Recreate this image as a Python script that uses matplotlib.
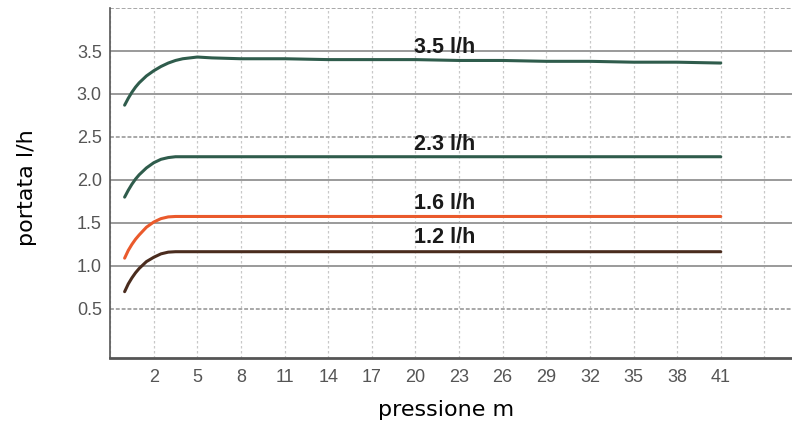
import matplotlib
matplotlib.use("Agg")
import matplotlib.pyplot as plt

# ---------------------------------------------------------------------------- #
#                                     DATA                                     #
# ---------------------------------------------------------------------------- #

x_ticks = [2, 5, 8, 11, 14, 17, 20, 23, 26, 29, 32, 35, 38, 41]
y_ticks = [0.5, 1.0, 1.5, 2.0, 2.5, 3.0, 3.5]

x_35 = [0, 0.25, 0.5, 0.75, 1, 1.5, 2, 2.5, 3, 3.5, 4, 4.5, 5, 6, 8, 11, 14,
        17, 20, 23, 26, 29, 32, 35, 38, 41]
y_35 = [2.87, 2.95, 3.02, 3.08, 3.13, 3.21, 3.27, 3.32, 3.36, 3.39, 3.41, 3.42,
        3.43, 3.42, 3.41, 3.41, 3.40, 3.40, 3.40, 3.39, 3.39, 3.38, 3.38, 3.37,
        3.37, 3.36]

x_low = [0, 0.25, 0.5, 0.75, 1, 1.5, 2, 2.5, 3, 3.5, 41]
y_23 = [1.80, 1.88, 1.95, 2.01, 2.06, 2.14, 2.20, 2.24, 2.26, 2.27, 2.27]
y_16 = [1.09, 1.18, 1.25, 1.31, 1.36, 1.45, 1.51, 1.55, 1.57, 1.575, 1.575]
y_12 = [0.70, 0.79, 0.86, 0.92, 0.97, 1.05, 1.10, 1.14, 1.16, 1.165, 1.165]

labels = ["3.5 l/h", "2.3 l/h", "1.6 l/h", "1.2 l/h"]
label_y = [3.54, 2.41, 1.73, 1.33]

# ---------------------------------------------------------------------------- #
#                                    FIGURE                                    #
# ---------------------------------------------------------------------------- #

fig = plt.figure(figsize=(7.92, 4.23), dpi=100)
ax = fig.add_axes([0.139, 0.154, 0.861, 0.827])

# grid
for xv in [-1] + x_ticks + [44]:
    ax.axvline(xv, color="#c8c8c8", lw=0.9, ls=(0, (2, 2)), zorder=0)
for yv in y_ticks + [4.0]:
    solid = yv not in (0.5, 2.5, 4.0)
    ax.axhline(yv, color="#9a9a9a" if solid else "#a8a8a8", lw=1.4,
               ls="-" if solid else (0, (2, 1)), zorder=0)

green = "#2f5c4c"
ax.plot(x_35, y_35, color=green, lw=2.2, solid_capstyle="round")
ax.plot(x_low, y_23, color=green, lw=2.2, solid_capstyle="round")
ax.plot(x_low, y_16, color="#ea5a2c", lw=2.2, solid_capstyle="round")
ax.plot(x_low, y_12, color="#4a2c1e", lw=2.2, solid_capstyle="round")

for txt, yy in zip(labels, label_y):
    ax.text(19.9, yy, txt, fontsize=15.5, fontweight="bold", color="#1a1a1a",
            family="Liberation Sans", va="center", ha="left")

ax.set_xlim(-1, 45.9)
ax.set_ylim(-0.07, 4.0)
ax.set_xticks(x_ticks)
ax.set_yticks(y_ticks)
ax.set_yticklabels([f"{v:.1f}" for v in y_ticks])
ax.tick_params(axis="y", length=0, labelsize=13, labelcolor="#555555", pad=6)
ax.tick_params(axis="x", length=0, labelsize=13, labelcolor="#555555", pad=8)
for lab in ax.get_xticklabels() + ax.get_yticklabels():
    lab.set_family("Liberation Sans")

for side in ("top", "right"):
    ax.spines[side].set_visible(False)
ax.spines["left"].set_color("#555555")
ax.spines["left"].set_linewidth(1.2)
ax.spines["bottom"].set_color("#555555")
ax.spines["bottom"].set_linewidth(2)

ax.set_xlabel("pressione m", fontsize=16, family="DejaVu Sans")
ax.set_ylabel("portata l/h", fontsize=16, family="DejaVu Sans")
ax.xaxis.set_label_coords(0.492, -0.149)
ax.xaxis.label.set_va("center")
ax.yaxis.set_label_coords(-0.122, 0.487)
ax.yaxis.label.set_va("center")

fig.savefig("out.png", dpi=100)
